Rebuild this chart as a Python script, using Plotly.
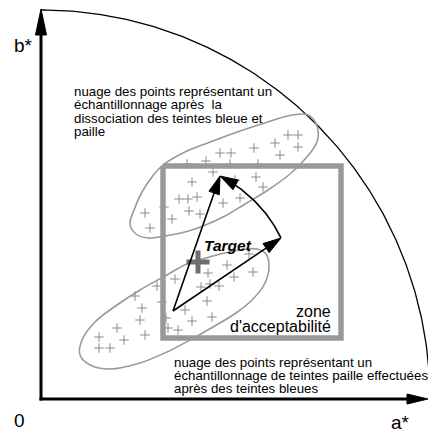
import numpy as np
import plotly.graph_objects as go

W, H = 428, 432

# ---- geometry (pixel space data coordinates) ----
origin_x, origin_y = 41, 399
b_tip = (41, 9)
a_tip = (428, 399)
gamut_radius = 389

# acceptance square corners
square_x = [163, 341, 341, 163, 163]
square_y = [166, 166, 338, 338, 166]

# target
target_x = [198]
target_y = [262]

# vectors
vec_origin = (173, 311)
vec_tip_upper = (220, 176)
vec_tip_right = (281, 238)

# sample points – upper cloud
upper_x = [288, 298, 275, 298, 280, 254, 220, 231, 206, 187, 230, 258, 213, 192, 235, 256,
           263, 179, 188, 197, 223, 240, 164, 189, 200, 145, 172, 150]
upper_y = [135, 135, 143, 147, 155, 148, 153, 153, 161, 164, 164, 164, 172, 182, 180, 177,
           187, 199, 199, 197, 203, 198, 207, 211, 214, 213, 219, 228]

# sample points – lower cloud
lower_x = [227, 208, 253, 234, 175, 157, 201, 210, 219, 135, 207, 142, 185, 140, 192, 212,
           117, 178, 145, 99, 124, 99, 110, 249, 162, 166, 168]
lower_y = [265, 273, 272, 277, 279, 286, 287, 284, 286, 296, 301, 308, 310, 320, 321, 317,
           328, 330, 335, 337, 340, 348, 348, 254, 302, 318, 328]

# cloud outlines
upper_outline_x = [213, 240, 265, 292, 308, 317, 317, 306, 290, 268, 245, 225, 203, 185, 165,
                   148, 136, 130, 134, 142, 152, 163, 187, 213]
upper_outline_y = [141, 131, 123, 115, 115, 126, 142, 158, 174, 190, 204, 216, 226, 232, 236,
                   238, 234, 224, 210, 192, 177, 165, 151, 141]
lower_outline_x = [187, 213, 240, 257, 266, 269, 264, 252, 236, 213, 190, 167, 140, 110, 90,
                   80, 82, 95, 117, 140, 165, 187]
lower_outline_y = [264, 256, 250, 249, 254, 268, 285, 300, 313, 327, 340, 352, 363, 369, 365,
                   355, 340, 322, 305, 290, 276, 264]

# texts
upper_lines = ["nuage des points représentant un",
               "échantillonnage après  la",
               "dissociation des teintes bleue et",
               "paille"]
lower_lines = ["nuage des points représentant un",
               "échantillonnage de teintes paille effectuées",
               "après des teintes bleues"]
zone_lines = ["zone", "d'acceptabilité"]

FONT = "Liberation Sans, Arial, Helvetica, sans-serif"
GRAY = "#999999"
PLUS = "#8a8a8a"


def head(tip, frm, length, half):
    tx, ty = tip
    fx, fy = frm
    d = np.hypot(tx - fx, ty - fy)
    ux, uy = (tx - fx) / d, (ty - fy) / d
    bx, by = tx - ux * length, ty - uy * length
    px, py = -uy, ux
    return ([tx, bx + px * half, bx - px * half, tx],
            [ty, by + py * half, by - py * half, ty])


fig = go.Figure()


def line(xs, ys, color="black", width=1.5, shape="linear"):
    fig.add_trace(go.Scatter(x=xs, y=ys, mode="lines", hoverinfo="skip",
                             line=dict(color=color, width=width, shape=shape)))


def tri(xs, ys, color="black"):
    fig.add_trace(go.Scatter(x=xs, y=ys, mode="lines", fill="toself", fillcolor=color,
                             hoverinfo="skip", line=dict(color=color, width=1)))


# gamut quarter circle
th = np.linspace(0, np.pi / 2, 200)
line(origin_x + gamut_radius * np.cos(th), origin_y - gamut_radius * np.sin(th),
     width=1.3)

# cloud outlines
line(upper_outline_x, upper_outline_y, GRAY, 1.6, "spline")
line(lower_outline_x, lower_outline_y, GRAY, 1.6, "spline")

# sample points
for xs, ys in ((upper_x, upper_y), (lower_x, lower_y)):
    fig.add_trace(go.Scatter(x=xs, y=ys, mode="markers", hoverinfo="skip",
                             marker=dict(symbol="cross-thin", size=6.8,
                                         line=dict(color=PLUS, width=1))))

# acceptance square
line(square_x, square_y, GRAY, 5.5)

# target cross
fig.add_trace(go.Scatter(x=target_x, y=target_y, mode="markers", hoverinfo="skip",
                         marker=dict(symbol="cross-thin", size=16.5,
                                     line=dict(color="#6e6e6e", width=5))))

# axes
line([origin_x, origin_x], [origin_y + 1.5, b_tip[1] + 20], "black", 3)
tri(*head(b_tip, (origin_x, origin_y), 26, 5.5))
line([origin_x - 1.5, a_tip[0] - 18], [origin_y, origin_y], "black", 3)
tri(*head(a_tip, (origin_x, origin_y), 21, 5))

# vectors
ox, oy = vec_origin
for tip in (vec_tip_upper, vec_tip_right):
    d = np.hypot(tip[0] - ox, tip[1] - oy)
    ux, uy = (tip[0] - ox) / d, (tip[1] - oy) / d
    line([ox, tip[0] - ux * 10], [oy, tip[1] - uy * 10], "black", 1.6)
    tri(*head(tip, vec_origin, 18, 5.5))

# curved arrow from right tip to upper tip (spiral about the vector origin)
aB = np.arctan2(vec_tip_right[1] - oy, vec_tip_right[0] - ox)
aA = np.arctan2(vec_tip_upper[1] - oy, vec_tip_upper[0] - ox)
rB = np.hypot(vec_tip_right[0] - ox, vec_tip_right[1] - oy)
rA = np.hypot(vec_tip_upper[0] - ox, vec_tip_upper[1] - oy)
t = np.linspace(0, 1, 60)
ang = aB + (aA - aB) * t
rad = rB + (rA - rB) * t
cx = ox + rad * np.cos(ang)
cy = oy + rad * np.sin(ang)
line(cx[:-6], cy[:-6], "black", 1.6)
tri(*head(vec_tip_upper, (cx[-9], cy[-9]), 18, 5.5))

ann = []
for i, s in enumerate(upper_lines):
    ann.append(dict(x=72, y=91 + 13.6 * i, text=s, xanchor="left", yanchor="middle",
                    font=dict(size=13.3, family=FONT, color="black")))
for i, s in enumerate(lower_lines):
    ann.append(dict(x=172, y=362 + 13 * i, text=s, xanchor="left", yanchor="middle",
                    font=dict(size=13.3, family=FONT, color="black")))
for i, s in enumerate(zone_lines):
    ann.append(dict(x=333, y=311 + 15.5 * i, text=s, xanchor="right", yanchor="middle",
                    font=dict(size=16, family=FONT, color="black")))
ann.append(dict(x=228, y=245, text="<b><i>Target</i></b>", xanchor="center",
                yanchor="middle", font=dict(size=15.5, family=FONT, color="black")))
ann.append(dict(x=23, y=45, text="b*", xanchor="center", yanchor="middle",
                font=dict(size=19, family=FONT, color="black")))
ann.append(dict(x=19, y=420, text="0", xanchor="center", yanchor="middle",
                font=dict(size=19, family=FONT, color="black")))
ann.append(dict(x=400, y=422, text="a*", xanchor="center", yanchor="middle",
                font=dict(size=19, family=FONT, color="black")))
for a in ann:
    a.update(xref="x", yref="y", showarrow=False)

fig.update_layout(
    width=W, height=H, autosize=False,
    margin=dict(l=0, r=0, t=0, b=0, pad=0),
    paper_bgcolor="white", plot_bgcolor="white",
    showlegend=False, annotations=ann,
    xaxis=dict(range=[0, W], visible=False, fixedrange=True),
    yaxis=dict(range=[H, 0], visible=False, fixedrange=True),
)

fig.write_html("out.html", config={"displayModeBar": False},
               post_script="document.body.style.margin='0';"
                           "document.body.style.overflow='hidden';")
